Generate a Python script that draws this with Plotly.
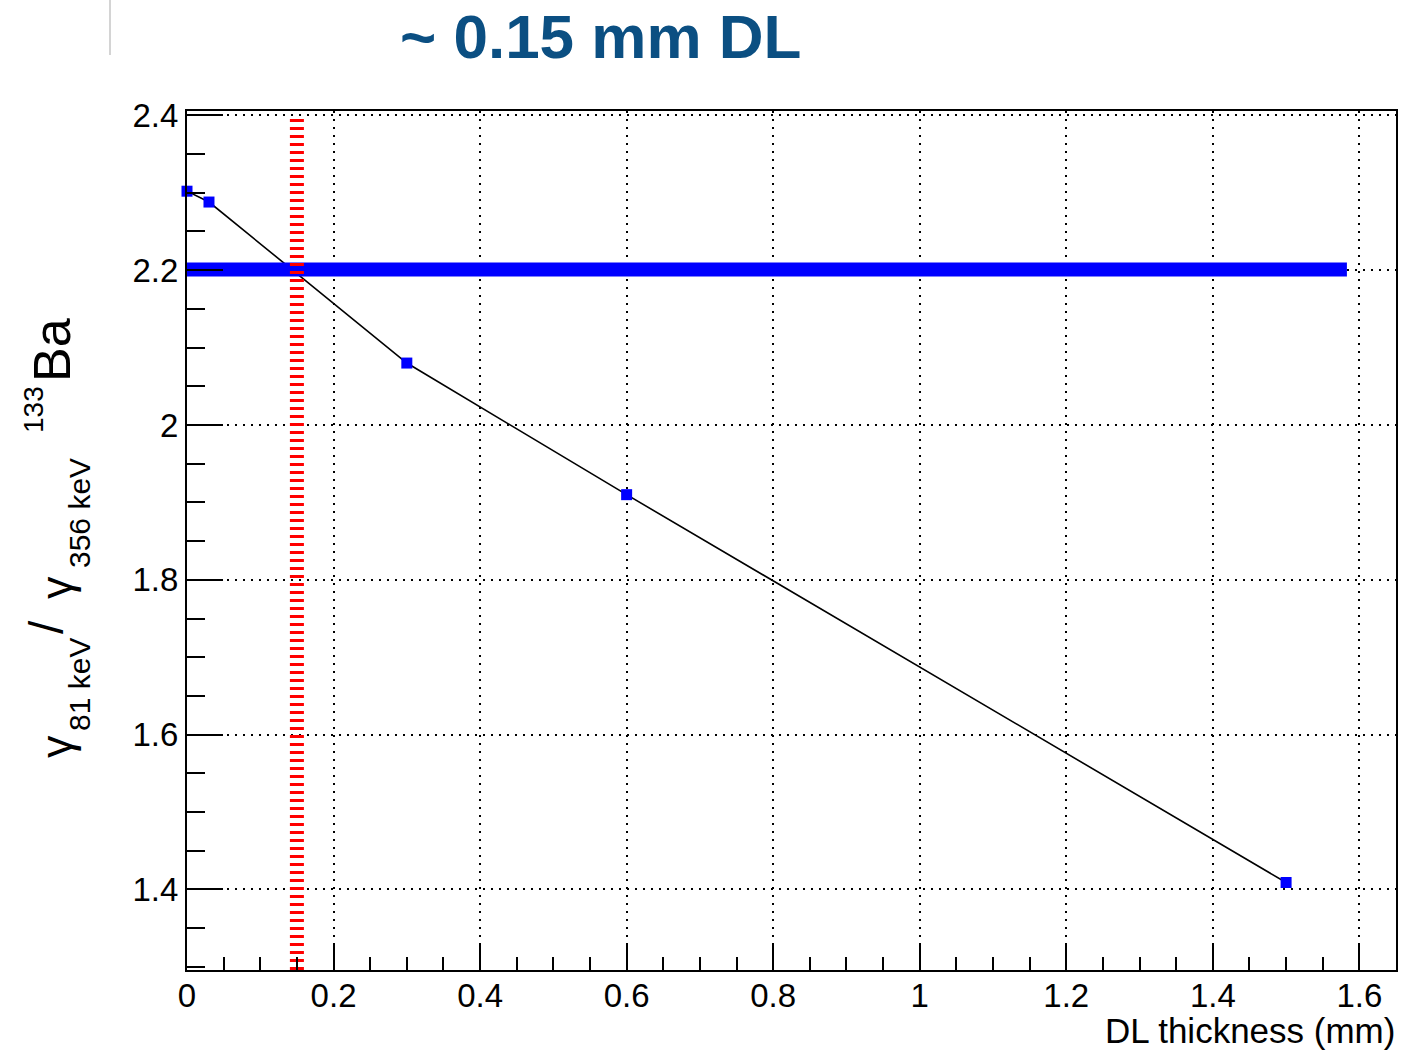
import plotly.graph_objects as go

# ---- data ----
thickness_mm = [0.0, 0.03, 0.3, 0.6, 1.5]
ratio = [2.302, 2.288, 2.080, 1.910, 1.409]
measured_ratio = 2.201
measured_x = [0.0, 1.583]
dl_estimate = 0.15
x_range = [0.0, 1.65]
y_range = [1.296, 2.4056]
title_text = "~ 0.15 mm DL"
x_title = "DL thickness (mm)"

FONT = "Liberation Sans, Arial, Helvetica, sans-serif"
W, H = 1422, 1050
ML, MR, MT, MB = 187, 26, 111, 80
PW, PH = W - ML - MR, H - MT - MB

def px_x(x):
    return (x - ML) / PW

def px_y(y):
    return (H - MB - y) / PH

fig = go.Figure()

# simulation graph
fig.add_trace(go.Scatter(
    x=thickness_mm, y=ratio, mode="lines+markers", cliponaxis=False,
    line=dict(color="black", width=1.6),
    marker=dict(symbol="square", size=11, color="#0000ff"),
    showlegend=False, hoverinfo="skip"))

# measured band
fig.add_trace(go.Scatter(
    x=measured_x, y=[measured_ratio, measured_ratio], mode="lines",
    line=dict(color="#0000ff", width=14),
    showlegend=False, hoverinfo="skip"))

# dead layer estimate line
fig.add_trace(go.Scatter(
    x=[dl_estimate, dl_estimate], y=[y_range[0], 2.40], mode="lines",
    line=dict(color="#ff0000", width=14, dash="3px,5px"),
    showlegend=False, hoverinfo="skip"))

axis_common = dict(
    showline=True, linewidth=2, linecolor="black", mirror=True,
    ticks="inside", tickcolor="black", tickwidth=2,
    showgrid=True, gridcolor="black", gridwidth=2, griddash="2px,6px",
    zeroline=False,
    tickfont=dict(family=FONT, size=33, color="black"),
)

fig.update_xaxes(range=x_range, tick0=0, dtick=0.2, ticklen=27,
                 ticklabelstandoff=-5,
                 minor=dict(dtick=0.05, ticklen=13, ticks="inside",
                            tickcolor="black", tickwidth=2, showgrid=False),
                 **axis_common)
fig.update_yaxes(range=y_range, tick0=0, dtick=0.2, ticklen=36,
                 minor=dict(dtick=0.05, ticklen=18, ticks="inside",
                            tickcolor="black", tickwidth=2, showgrid=False),
                 **axis_common)

annotations = []

def pa(text, x, y, size, angle=0, xanchor="center", yanchor="middle", color="black"):
    annotations.append(dict(text=text, x=px_x(x), y=px_y(y),
                            xref="paper", yref="paper", showarrow=False,
                            xanchor=xanchor, yanchor=yanchor, textangle=angle,
                            font=dict(family=FONT, size=size, color=color)))

# y-axis title pieces (rotated)
pa("γ", 56, 747, 45, -90)
pa("81 keV", 79, 685, 30, -90)
pa("/", 46, 627, 48, -90)
pa("γ", 56, 588, 45, -90)
pa("356 keV", 79, 513, 30, -90)
pa("133", 33, 410, 28, -90)
pa("Ba", 52, 350, 52, -90)

# x-axis title
pa(x_title, 1397, 1030, 35, 0, xanchor="right")

# title
pa("<b>" + title_text + "</b>", 600, 37, 62, 0, color="#0b4f82")

fig.update_layout(
    width=W, height=H,
    margin=dict(l=ML, r=MR, t=MT, b=MB),
    paper_bgcolor="white", plot_bgcolor="white",
    annotations=annotations,
    shapes=[dict(type="line", xref="paper", yref="paper",
                 x0=px_x(110), x1=px_x(110), y0=px_y(0), y1=px_y(55),
                 line=dict(color="#d4d4d4", width=2))],
)

fig.write_html("out.html")
